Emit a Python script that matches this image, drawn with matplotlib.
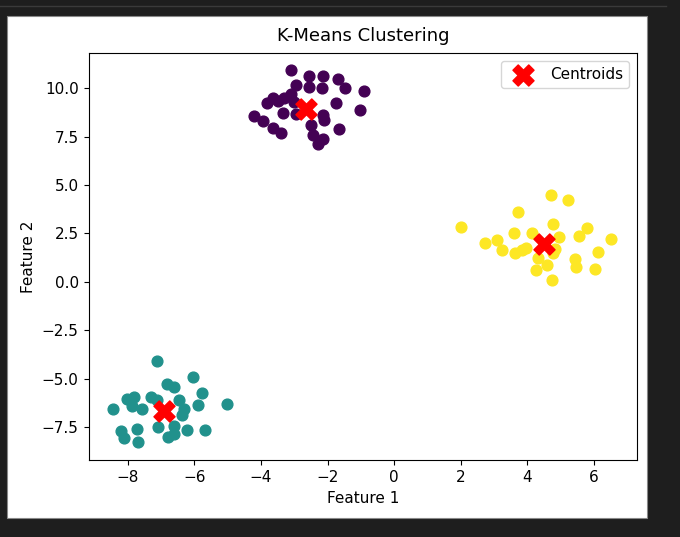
import matplotlib
matplotlib.use("Agg")
import matplotlib.pyplot as plt
from matplotlib.patches import Rectangle
from matplotlib.lines import Line2D

# cluster 0 (purple)
c0_x = [-3.10, -2.55, -2.15, -1.70, -1.49, -2.95, -2.57, -2.17, -0.92, -3.10,
        -3.30, -3.65, -3.83, -3.50, -3.00, -1.74, -1.02, -3.35, -2.95, -2.15,
        -4.20, -3.95, -2.10, -2.50, -3.65, -3.40, -1.67, -2.45, -2.13, -2.30]
c0_y = [10.93, 10.64, 10.64, 10.47, 10.02, 10.16, 10.07, 10.02, 9.84, 9.72,
        9.50, 9.50, 9.26, 9.33, 9.29, 9.26, 8.86, 8.74, 8.69, 8.63,
        8.56, 8.29, 8.34, 8.08, 7.94, 7.70, 7.87, 7.60, 7.39, 7.13]

# cluster 1 (teal)
c1_x = [-7.12, -6.04, -6.83, -6.61, -5.76, -8.02, -7.82, -7.32, -6.46, -5.89,
        -5.01, -8.45, -7.87, -7.57, -6.31, -6.39, -8.22, -7.74, -7.10, -6.61,
        -6.23, -5.69, -8.12, -7.70, -6.80, -6.61, -7.12]
c1_y = [-4.07, -4.94, -5.28, -5.46, -5.73, -6.08, -5.98, -5.94, -6.11, -6.37,
        -6.32, -6.60, -6.42, -6.60, -6.55, -6.90, -7.71, -7.59, -7.53, -7.46,
        -7.67, -7.64, -8.05, -8.28, -8.00, -7.88, -6.11]

# cluster 2 (yellow)
c2_x = [2.02, 4.71, 5.23, 3.73, 4.76, 5.79, 3.60, 4.13, 4.96, 5.56,
        6.52, 2.72, 3.09, 3.23, 3.63, 3.83, 3.96, 4.83, 4.33, 4.78,
        5.43, 5.46, 6.14, 6.04, 4.60, 4.26, 4.75]
c2_y = [2.85, 4.50, 4.22, 3.58, 3.01, 2.80, 2.51, 2.54, 2.32, 2.37,
        2.20, 2.02, 2.14, 1.63, 1.50, 1.63, 1.76, 1.68, 1.21, 1.50,
        1.16, 0.76, 1.55, 0.64, 0.86, 0.59, 0.07]

centroid_x = [-2.65, -6.92, 4.51]
centroid_y = [8.94, -6.67, 1.94]

colors = ["#440154", "#21918c", "#fde725"]

# screenshot is a slightly upscaled default figure
plt.rcParams["font.size"] = 11
plt.rcParams["xtick.major.size"] = 3.9
plt.rcParams["ytick.major.size"] = 3.9

fig = plt.figure(figsize=(6.8, 5.37), dpi=100, facecolor="#1e1e1e")
# white canvas inside the dark screenshot frame
fig.patches.append(Rectangle((0.0103, 0.0354), 0.9412, 0.9346, transform=fig.transFigure,
                             facecolor="white", edgecolor="#888888", lw=0.8, zorder=-10))
fig.lines.append(Line2D([0, 0.98], [0.988, 0.988], transform=fig.transFigure,
                        color="#3a3a3a", lw=1, zorder=-10))

ax = fig.add_axes([0.1309, 0.1434, 0.8059, 0.7579])
for xs, ys, c in zip([c0_x, c1_x, c2_x], [c0_y, c1_y, c2_y], colors):
    ax.scatter(xs, ys, s=60, color=c)
ax.scatter(centroid_x, centroid_y, s=230, c="red", marker="X", label="Centroids")

ax.set_xlim(-9.17, 7.3)
ax.set_ylim(-9.21, 11.82)
ax.set_title("K-Means Clustering", fontsize=13, pad=9)
ax.set_xlabel("Feature 1")
ax.set_ylabel("Feature 2")
ax.legend(loc="upper right")

fig.savefig("out.png", dpi=100, facecolor=fig.get_facecolor())
